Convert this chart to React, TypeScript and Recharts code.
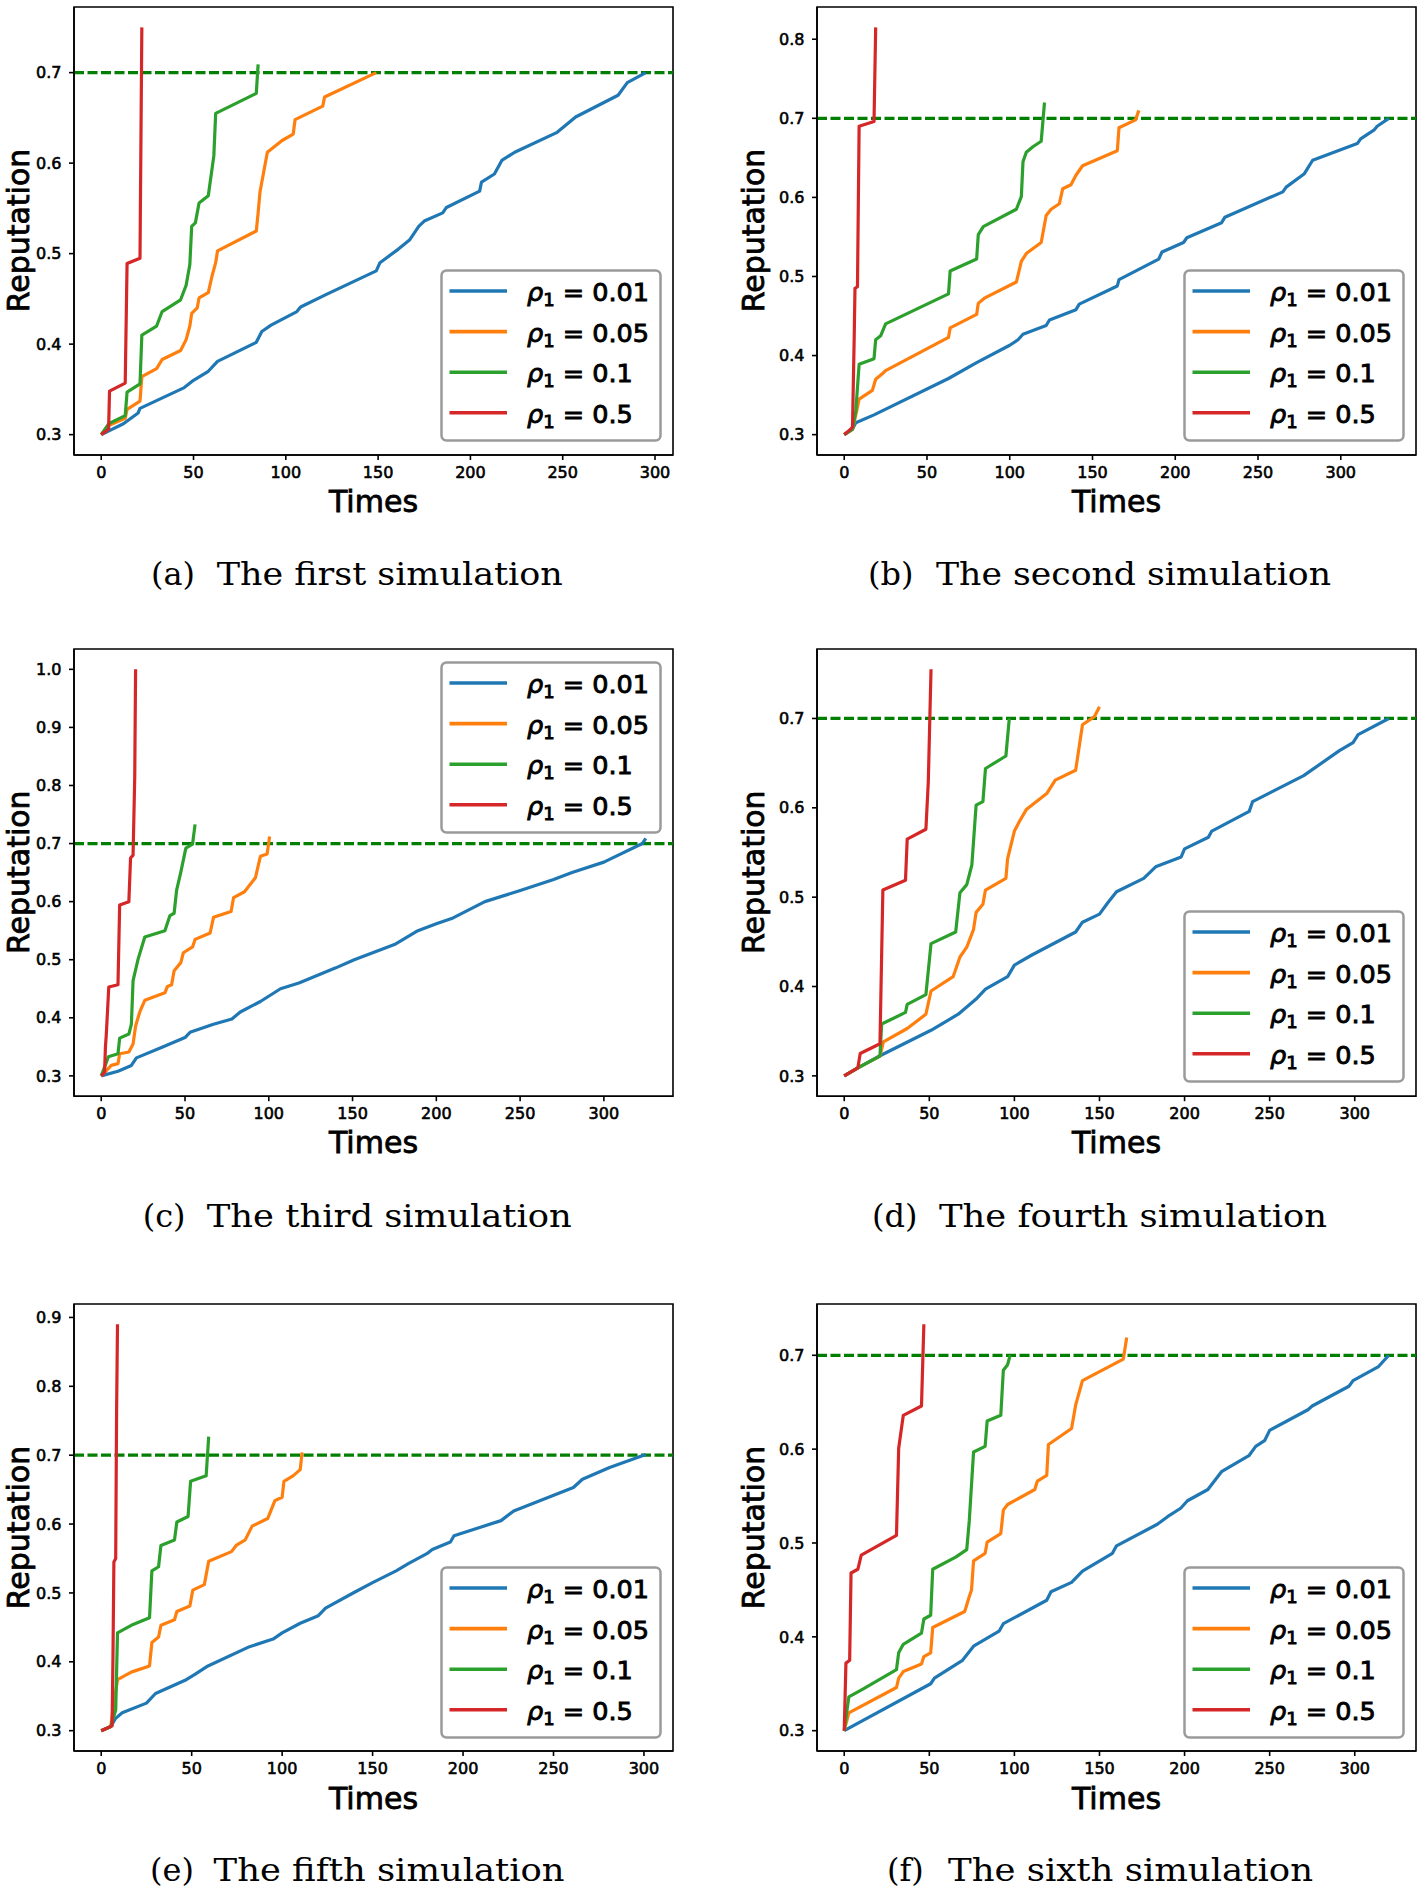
import React from 'react';
import { LineChart, Line, XAxis, YAxis, ReferenceLine, ReferenceArea, Legend } from 'recharts';

type P = [number, number];

// ---------- tick labels / categories ----------
const RHO = ['0.01', '0.05', '0.1', '0.5'];
const COLORS = ['#1f77b4', '#ff7f0e', '#2ca02c', '#d62728'];
const X_TICKS = [0, 50, 100, 150, 200, 250, 300];
const Y_TICKS_07 = [0.3, 0.4, 0.5, 0.6, 0.7];
const Y_TICKS_08 = [0.3, 0.4, 0.5, 0.6, 0.7, 0.8];
const Y_TICKS_09 = [0.3, 0.4, 0.5, 0.6, 0.7, 0.8, 0.9];
const Y_TICKS_10 = [0.3, 0.4, 0.5, 0.6, 0.7, 0.8, 0.9, 1.0];
const THRESHOLD = 0.7;
const CAPTION_TAGS = ['(a)', '(b)', '(c)', '(d)', '(e)', '(f)'];
const CAPTION_TEXTS = [
  'The first simulation',
  'The second simulation',
  'The third simulation',
  'The fourth simulation',
  'The fifth simulation',
  'The sixth simulation',
];

// ---------- (a) first simulation ----------
const A_BLUE: P[] = [[0,0.3],[12,0.312],[20,0.324],[21,0.329],[45,0.352],[50,0.36],[58,0.37],[63,0.381],[84,0.402],[87,0.414],[92,0.421],[106,0.436],[108,0.441],[122,0.455],[149,0.481],[151,0.49],[161,0.505],[167,0.515],[172,0.53],[175,0.536],[185,0.545],[187,0.551],[205,0.569],[206,0.579],[213,0.588],[217,0.603],[224,0.612],[247,0.634],[257,0.651],[280,0.675],[285,0.689],[295,0.7]];
const A_ORANGE: P[] = [[0,0.3],[4,0.31],[13,0.318],[14,0.328],[21,0.337],[22,0.364],[30,0.373],[33,0.383],[43,0.393],[46,0.405],[48,0.42],[49,0.434],[52,0.44],[53,0.451],[58,0.457],[60,0.475],[62,0.49],[63,0.503],[84,0.525],[85,0.545],[86,0.568],[90,0.612],[98,0.625],[104,0.632],[105,0.648],[120,0.663],[121,0.673],[149,0.7]];
const A_GREEN: P[] = [[0,0.3],[4,0.312],[13,0.321],[14,0.347],[21,0.356],[22,0.41],[30,0.42],[33,0.436],[43,0.449],[46,0.465],[48,0.488],[49,0.53],[51,0.534],[53,0.556],[58,0.564],[61,0.608],[62,0.655],[84,0.677],[85,0.709]];
const A_RED: P[] = [[0,0.3],[4,0.306],[4.5,0.348],[13,0.357],[14,0.489],[21,0.495],[22,0.75]];

// ---------- (b) second simulation ----------
const B_BLUE: P[] = [[0,0.3],[5,0.307],[7,0.315],[18,0.325],[63,0.371],[80,0.391],[100,0.413],[105,0.42],[108,0.427],[122,0.438],[124,0.445],[140,0.458],[142,0.465],[165,0.488],[166,0.496],[190,0.522],[192,0.531],[205,0.543],[207,0.549],[228,0.568],[230,0.575],[265,0.607],[267,0.613],[278,0.63],[283,0.647],[310,0.668],[312,0.674],[320,0.685],[322,0.69],[329,0.7]];
const B_ORANGE: P[] = [[0,0.3],[5,0.307],[7,0.325],[9,0.345],[17,0.356],[19,0.37],[23,0.377],[25,0.381],[63,0.423],[64,0.435],[80,0.452],[81,0.466],[85,0.473],[104,0.493],[107,0.519],[110,0.529],[119,0.543],[122,0.577],[125,0.585],[130,0.592],[132,0.611],[137,0.616],[140,0.628],[144,0.64],[165,0.659],[166,0.688],[176,0.698],[178,0.71]];
const B_GREEN: P[] = [[0,0.3],[5,0.307],[7,0.33],[9,0.389],[18,0.396],[19,0.42],[22,0.425],[25,0.44],[63,0.478],[64,0.507],[80,0.522],[81,0.553],[84,0.563],[104,0.585],[107,0.601],[108,0.645],[110,0.657],[114,0.664],[119,0.671],[121,0.72]];
const B_RED: P[] = [[0,0.3],[4,0.307],[5,0.31],[6,0.42],[6.5,0.485],[8,0.487],[9,0.69],[18,0.696],[19,0.815]];

// ---------- (c) third simulation ----------
const C_BLUE: P[] = [[0,0.3],[10,0.308],[18,0.318],[21,0.331],[37,0.35],[50,0.366],[53,0.375],[67,0.389],[78,0.398],[83,0.41],[95,0.428],[107,0.45],[118,0.46],[140,0.486],[151,0.5],[175,0.526],[182,0.538],[189,0.55],[200,0.562],[210,0.572],[229,0.6],[251,0.62],[270,0.638],[281,0.65],[300,0.668],[323,0.7],[325,0.709]];
const C_ORANGE: P[] = [[0,0.3],[6,0.318],[10,0.321],[11,0.338],[16.5,0.341],[19,0.355],[20.5,0.386],[23,0.41],[26,0.43],[38,0.443],[39.5,0.454],[42,0.457],[43.5,0.481],[47.5,0.495],[49,0.512],[54.5,0.522],[56,0.535],[65,0.546],[67,0.573],[77.5,0.583],[79,0.607],[85.5,0.617],[92,0.641],[95,0.678],[99,0.682],[100.5,0.712]];
const C_GREEN: P[] = [[0,0.3],[4.3,0.333],[10,0.338],[11,0.365],[16.5,0.372],[18,0.389],[19,0.464],[22,0.501],[26,0.539],[38,0.55],[41,0.576],[43.5,0.58],[45,0.62],[47.5,0.651],[50.5,0.692],[54.5,0.699],[56,0.733]];
const C_RED: P[] = [[0,0.3],[2,0.306],[2.5,0.35],[3,0.37],[4.5,0.453],[10,0.457],[11,0.594],[16.5,0.6],[17.5,0.675],[19,0.68],[20,0.815],[20.5,1.0]];

// ---------- (d) fourth simulation ----------
const D_BLUE: P[] = [[0,0.3],[8,0.309],[21,0.3225],[51,0.351],[67,0.369],[77.5,0.386],[83,0.397],[96,0.411],[100,0.424],[110,0.435],[136,0.461],[140,0.472],[150,0.481],[155,0.494],[160,0.506],[176,0.521],[183,0.534],[198,0.545],[200,0.554],[214,0.567],[216,0.574],[238,0.596],[240,0.607],[270,0.636],[291,0.664],[299,0.673],[302,0.682],[320,0.7]];
const D_ORANGE: P[] = [[0,0.3],[8,0.309],[21,0.322],[23,0.338],[37,0.353],[48,0.369],[51,0.395],[64,0.411],[68,0.433],[72,0.444],[76,0.464],[77.5,0.483],[81.5,0.492],[83,0.508],[95,0.521],[96,0.543],[100,0.574],[103,0.585],[107,0.598],[119,0.616],[124,0.631],[136,0.642],[140,0.693],[147,0.702],[150,0.713]];
const D_GREEN: P[] = [[0,0.3],[8,0.309],[21,0.322],[22,0.358],[36,0.371],[37,0.38],[48,0.391],[51,0.448],[65.5,0.461],[68,0.505],[72,0.514],[75,0.536],[77.5,0.603],[81.5,0.607],[83,0.644],[95,0.658],[97,0.7]];
const D_RED: P[] = [[0,0.3],[8,0.309],[9.4,0.325],[21,0.336],[22.7,0.508],[36,0.519],[37,0.565],[48,0.576],[49.4,0.629],[51,0.755]];

// ---------- (e) fifth simulation ----------
const E_BLUE: P[] = [[0,0.3],[5.3,0.306],[7.8,0.3175],[11.6,0.326],[25,0.34],[30,0.354],[47,0.374],[52,0.382],[59,0.394],[82,0.422],[95,0.433],[100,0.442],[110,0.456],[120,0.467],[124,0.478],[140,0.501],[150,0.515],[163,0.532],[170,0.543],[180,0.557],[183,0.563],[193,0.574],[195,0.583],[221,0.605],[228,0.619],[261,0.653],[266,0.665],[281,0.682],[301,0.701]];
const E_ORANGE: P[] = [[0,0.3],[5.3,0.306],[6.5,0.332],[9,0.374],[16.6,0.385],[26.7,0.394],[28,0.428],[31.7,0.436],[33,0.453],[40.5,0.461],[41.8,0.473],[49,0.481],[50.6,0.504],[57,0.512],[59.4,0.546],[72,0.56],[74.6,0.569],[79.6,0.577],[83.4,0.597],[92,0.608],[96,0.634],[100,0.639],[101,0.662],[106,0.67],[110,0.679],[111,0.704]];
const E_GREEN: P[] = [[0,0.3],[5.3,0.306],[8,0.33],[9,0.442],[16.6,0.453],[26.7,0.464],[28,0.532],[31.7,0.538],[33,0.569],[40.5,0.577],[41.8,0.603],[48,0.611],[49.4,0.662],[58,0.67],[59.4,0.727]];
const E_RED: P[] = [[0,0.3],[6,0.307],[6.5,0.41],[7,0.545],[8,0.55],[8.5,0.765],[9,0.89]];

// ---------- (f) sixth simulation ----------
const F_BLUE: P[] = [[0,0.3],[50.8,0.35],[53,0.356],[69.5,0.375],[76,0.39],[91,0.406],[93.5,0.414],[119,0.439],[121.5,0.448],[133.6,0.458],[140,0.47],[157.6,0.489],[160,0.497],[184,0.52],[190,0.528],[197.7,0.537],[201.7,0.545],[213.7,0.557],[221.7,0.576],[237.8,0.593],[241.8,0.603],[247,0.609],[250,0.62],[272.5,0.642],[275,0.646],[296.6,0.667],[299,0.673],[314,0.688],[320,0.7]];
const F_ORANGE: P[] = [[0,0.3],[2.7,0.319],[30.7,0.346],[32,0.356],[34.7,0.363],[45.4,0.371],[46.8,0.379],[50.8,0.383],[52,0.41],[70.8,0.427],[73.5,0.443],[74.8,0.45],[76,0.481],[82.8,0.489],[84,0.501],[92,0.51],[93.5,0.535],[96,0.541],[112,0.557],[113.5,0.566],[119,0.572],[120,0.605],[133.6,0.622],[136,0.647],[140,0.673],[164,0.696],[166,0.719]];
const F_GREEN: P[] = [[0,0.3],[2.7,0.336],[10.7,0.344],[30.7,0.365],[32,0.383],[34.7,0.392],[45.4,0.404],[46.8,0.419],[50.8,0.423],[52,0.472],[65.5,0.485],[72,0.493],[73.5,0.524],[76,0.597],[82.8,0.603],[84,0.63],[92,0.636],[93.5,0.684],[96,0.69],[97.5,0.7]];
const F_RED: P[] = [[0,0.3],[1,0.372],[3.2,0.375],[4,0.468],[8,0.472],[10,0.487],[30.7,0.508],[32,0.601],[34.7,0.636],[45.4,0.646],[46.8,0.733]];

// ---------- layout (positions only) ----------
const COL_LEFT = [74, 817];
const YLABEL_OFFSET = [45, 53.5];
const PLOT_W = 599;
const ROW_TOP = [6.5, 648.6, 1304];
const PLOT_H = [448, 447.2, 447];
const CAPTION_LAYOUT = [
  { tagX: 151, textX: 216.7, len: 346, base: 585 },
  { tagX: 868, textX: 936, len: 395, base: 585 },
  { tagX: 142.7, textX: 206.8, len: 365, base: 1227 },
  { tagX: 872, textX: 939, len: 388, base: 1227 },
  { tagX: 150, textX: 213.6, len: 351, base: 1881 },
  { tagX: 887, textX: 948, len: 365, base: 1881 },
];

const PANELS = [
  { series: [A_BLUE, A_ORANGE, A_GREEN, A_RED], yTicks: Y_TICKS_07, legendTop: false },
  { series: [B_BLUE, B_ORANGE, B_GREEN, B_RED], yTicks: Y_TICKS_08, legendTop: false },
  { series: [C_BLUE, C_ORANGE, C_GREEN, C_RED], yTicks: Y_TICKS_10, legendTop: true },
  { series: [D_BLUE, D_ORANGE, D_GREEN, D_RED], yTicks: Y_TICKS_07, legendTop: false },
  { series: [E_BLUE, E_ORANGE, E_GREEN, E_RED], yTicks: Y_TICKS_09, legendTop: false },
  { series: [F_BLUE, F_ORANGE, F_GREEN, F_RED], yTicks: Y_TICKS_07, legendTop: false },
];

const SANS = 'DejaVu Sans, Verdana, sans-serif';
const SERIF = 'DejaVu Serif, Liberation Serif, serif';
const LEG_W = 219;
const LEG_H = 170;

const LegendBox = (props: any) => {
  const items = (props && props.payload) || [];
  return (
    <svg width={LEG_W + 4} height={LEG_H + 4} style={{ display: 'block', overflow: 'visible' }}>
      <rect x={1.5} y={1.5} width={LEG_W} height={LEG_H} rx={5} ry={5} fill="#fff" fillOpacity={0.85} stroke="#9a9a9a" strokeWidth={2.5} />
      {items.map((it: any, i: number) => {
        const y = 22 + i * 40.6;
        return (
          <g key={i}>
            <line x1={9.5} x2={67} y1={y} y2={y} stroke={it.color} strokeWidth={3.6} />
            <text x={87} y={y + 10} fontFamily={SANS} fontSize={25.5} fill="#000" stroke="#000" strokeWidth={0.9} style={{ whiteSpace: 'pre' }}>
              <tspan fontStyle="italic">ρ</tspan>
              <tspan fontSize={18} dy={5}>1</tspan>
              <tspan dy={-5}>{' = ' + it.value}</tspan>
            </text>
          </g>
        );
      })}
    </svg>
  );
};

const YW = 70;
const XH = 40;
const MT = 6;
const MR = 20;

function Panel({ idx }: { idx: number }) {
  const cfg = PANELS[idx];
  const left = COL_LEFT[idx % 2];
  const top = ROW_TOP[Math.floor(idx / 2)];
  const h = PLOT_H[Math.floor(idx / 2)];
  const w = PLOT_W;
  const all = cfg.series.flat();
  const ts = all.map((p) => p[0]);
  const rs = all.map((p) => p[1]);
  const tMin = Math.min(...ts), tMax = Math.max(...ts);
  const rMin = Math.min(...rs), rMax = Math.max(...rs);
  const xd: [number, number] = [tMin - 0.05 * (tMax - tMin), tMax + 0.05 * (tMax - tMin)];
  const yd: [number, number] = [rMin - 0.05 * (rMax - rMin), rMax + 0.05 * (rMax - rMin)];
  const legLeft = YW + w - 12.5 - LEG_W - 1.5;
  const legTop = cfg.legendTop ? MT + 14 - 1.5 : MT + h - 14 - LEG_H - 1.5;
  const tickStyle = { fontSize: 16, fill: '#000', stroke: '#000', strokeWidth: 0.6, fontFamily: SANS };
  return (
    <div style={{ position: 'absolute', left: left - YW, top: top - MT }}>
      <LineChart width={YW + w + MR} height={MT + h + XH} margin={{ top: MT, right: MR, left: 0, bottom: 0 }}>
        <XAxis
          type="number"
          dataKey="t"
          domain={xd}
          ticks={X_TICKS}
          allowDataOverflow
          height={XH}
          tickSize={5}
          tickMargin={6.5}
          tick={tickStyle}
          stroke="#000"
          axisLine={{ stroke: '#000', strokeWidth: 1.6 }}
          tickLine={{ stroke: '#000', strokeWidth: 1.6 }}
        />
        <YAxis
          type="number"
          domain={yd}
          ticks={cfg.yTicks}
          allowDataOverflow
          width={YW}
          tickSize={5}
          tickMargin={7.5}
          tick={tickStyle}
          tickFormatter={(v: number) => v.toFixed(1)}
          stroke="#000"
          axisLine={{ stroke: '#000', strokeWidth: 1.6 }}
          tickLine={{ stroke: '#000', strokeWidth: 1.6 }}
        />
        <ReferenceArea x1={xd[0]} x2={xd[1]} y1={yd[0]} y2={yd[1]} fill="none" fillOpacity={0} stroke="#000" strokeWidth={1.6} ifOverflow="visible" />
        <ReferenceLine y={THRESHOLD} stroke="#007f00" strokeWidth={3.2} strokeDasharray="10 3.5" />
        {cfg.series.map((s, i) => (
          <Line
            key={i}
            data={s.map(([t, r]) => ({ t, r }))}
            dataKey="r"
            name={RHO[i]}
            type="linear"
            stroke={COLORS[i]}
            strokeWidth={3.2}
            strokeLinejoin="round"
            dot={false}
            activeDot={false}
            isAnimationActive={false}
          />
        ))}
        <Legend
          layout="horizontal"
          verticalAlign="middle"
          align="center"
          content={LegendBox}
          wrapperStyle={{ position: 'absolute', left: legLeft, top: legTop, width: LEG_W + 4, height: LEG_H + 4, margin: 0, padding: 0 }}
        />
      </LineChart>
    </div>
  );
}

function Overlay() {
  const texts: React.ReactNode[] = [];
  for (let idx = 0; idx < 6; idx++) {
    const left = COL_LEFT[idx % 2];
    const top = ROW_TOP[Math.floor(idx / 2)];
    const h = PLOT_H[Math.floor(idx / 2)];
    const cx = left + PLOT_W / 2;
    const cy = top + h / 2;
    const c = CAPTION_LAYOUT[idx];
    texts.push(
      <g key={idx}>
        <text x={cx} y={top + h + 57.5} textAnchor="middle" fontFamily={SANS} fontSize={30} fill="#000" stroke="#000" strokeWidth={0.8}>Times</text>
        <text transform={`translate(${left - YLABEL_OFFSET[idx % 2]},${cy}) rotate(-90)`} textAnchor="middle" fontFamily={SANS} fontSize={30} fill="#000" stroke="#000" strokeWidth={0.8}>Reputation</text>
        <text x={c.tagX} y={c.base} fontFamily={SERIF} fontSize={32} fill="#000">{CAPTION_TAGS[idx]}</text>
        <text x={c.textX} y={c.base} fontFamily={SERIF} fontSize={32} fill="#000" textLength={c.len} lengthAdjust="spacingAndGlyphs">{CAPTION_TEXTS[idx]}</text>
      </g>
    );
  }
  return (
    <svg width={1425} height={1892} style={{ position: 'absolute', left: 0, top: 0, pointerEvents: 'none' }}>
      {texts}
    </svg>
  );
}

export default function App() {
  return (
    <div style={{ position: 'absolute', left: 0, top: 0, width: 1425, height: 1892, background: '#fff', overflow: 'hidden' }}>
      {[0, 1, 2, 3, 4, 5].map((i) => (
        <Panel key={i} idx={i} />
      ))}
      <Overlay />
    </div>
  );
}
